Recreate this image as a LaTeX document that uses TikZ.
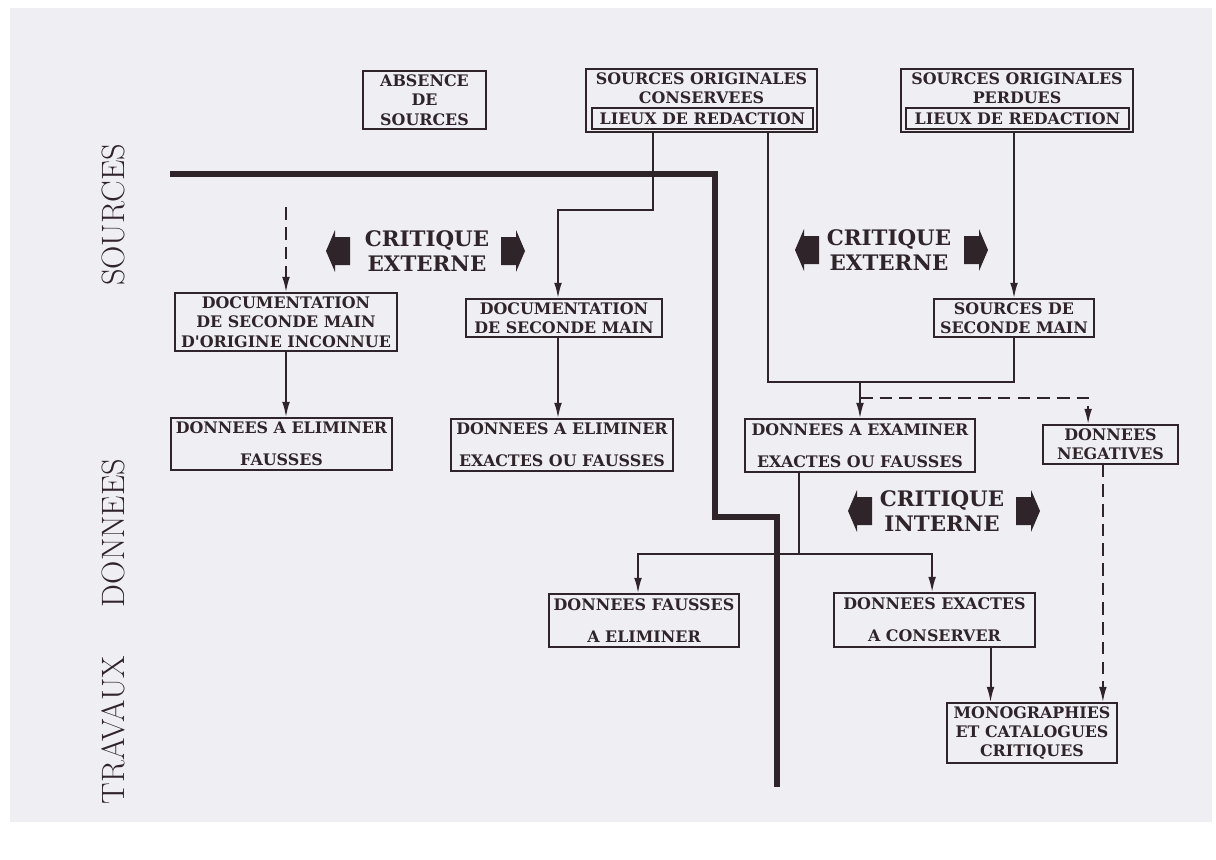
\documentclass[tikz,border=0pt]{standalone}
\usepackage{fontspec}
\newfontfamily\boxfont{DejaVu Serif}
\usetikzlibrary{arrows.meta}
\definecolor{ink}{RGB}{46,36,42}
\definecolor{paper}{RGB}{239,239,243}

\begin{document}
\begin{tikzpicture}[x=0.025cm,y=-0.025cm,line width=1.4pt,color=ink,
>={Latex[length=11pt,width=5.5pt]},
box/.style={draw,rectangle,line width=0.9pt,inner sep=1pt,align=center,font=\boxfont\bfseries\fontsize{11.3}{13.7}\selectfont},
lbl/.style={align=center,inner sep=0pt,font=\boxfont\bfseries\fontsize{11.3}{13.5}\selectfont},
inbox/.style={draw,rectangle,line width=0.9pt,inner sep=0pt,minimum height=0.525cm,font=\boxfont\bfseries\fontsize{11.3}{13}\selectfont},
crit/.style={align=center,inner sep=0pt,font=\boxfont\bfseries\fontsize{15.2}{18}\selectfont},
side/.style={rotate=90,inner sep=0pt,font=\fontsize{23}{26}\selectfont},
divider/.style={line width=4.5pt},
fatarrow/.pic={\fill[ink] (0,0) -- (9,-21) -- (9,-14) -- (24,-14) -- (24,14) -- (9,14) -- (9,21) -- cycle;}]

\useasboundingbox (0,0) rectangle (1216,860);
\fill[white] (0,0) rectangle (1216,860);
\fill[paper] (10,8) rectangle (1212,822);

% side titles
\draw (113,215) node[side] (tsrc) {SOURCES};
\draw (113,533) node[side] (tdon) {DONNEES};
\draw (113,730) node[side] (ttrv) {TRAVAUX};

% sources
\draw (424.5,100) node[box,minimum width=3.075cm,minimum height=1.45cm] (abs) {ABSENCE\\DE\\SOURCES};
\draw (701.5,100.5) node[box,minimum width=5.775cm,minimum height=1.575cm] (soc) {};
\draw (701.5,88) node[lbl] (soct) {SOURCES ORIGINALES\\CONSERVEES};
\draw (702.5,118.5) node[inbox,minimum width=5.525cm] (socl) {LIEUX DE REDACTION};
\draw (1017,100.5) node[box,minimum width=5.8cm,minimum height=1.575cm] (sop) {};
\draw (1017,88) node[lbl] (sopt) {SOURCES ORIGINALES\\PERDUES};
\draw (1017.5,118.5) node[inbox,minimum width=5.575cm] (sopl) {LIEUX DE REDACTION};

\draw (286,322) node[box,minimum width=5.55cm,minimum height=1.45cm] (dsi) {DOCUMENTATION\\DE SECONDE MAIN\\D'ORIGINE INCONNUE};
\draw (564,318) node[box,minimum width=4.9cm,minimum height=0.95cm] (doc) {DOCUMENTATION\\DE SECONDE MAIN};
\draw (1014,318) node[box,minimum width=4.0cm,minimum height=0.95cm] (ssm) {SOURCES DE\\SECONDE MAIN};

% donnees
\draw (281.5,444) node[box,minimum width=5.525cm,minimum height=1.3cm] (def) {DONNEES A ELIMINER\\[9pt]FAUSSES};
\draw (562,445) node[box,minimum width=5.55cm,minimum height=1.3cm] (deef) {DONNEES A ELIMINER\\[9pt]EXACTES OU FAUSSES};
\draw (860,445.5) node[box,minimum width=5.75cm,minimum height=1.325cm] (dex) {DONNEES A EXAMINER\\[9pt]EXACTES OU FAUSSES};
\draw (1110.5,444.5) node[box,minimum width=3.375cm,minimum height=0.975cm] (dneg) {DONNEES\\NEGATIVES};
\draw (644,620.5) node[box,minimum width=4.75cm,minimum height=1.325cm] (dfa) {DONNEES FAUSSES\\[9pt]A ELIMINER};
\draw (934.5,620) node[box,minimum width=5.025cm,minimum height=1.35cm] (dxc) {DONNEES EXACTES\\[9pt]A CONSERVER};
\draw (1032,733) node[box,minimum width=4.25cm,minimum height=1.5cm] (mon) {MONOGRAPHIES\\ET CATALOGUES\\CRITIQUES};

% critiques
\draw (427,251) node[crit] (crit1) {CRITIQUE\\EXTERNE};
\pic at (326,251) {fatarrow};
\pic[xscale=-1] at (525,251) {fatarrow};
\draw (889,250) node[crit] (crit2) {CRITIQUE\\EXTERNE};
\pic at (795,250) {fatarrow};
\pic[xscale=-1] at (988,250) {fatarrow};
\draw (942,511) node[crit] (crit3) {CRITIQUE\\INTERNE};
\pic at (848,511) {fatarrow};
\pic[xscale=-1] at (1040,511) {fatarrow};

% separating line
\draw[divider] (170,174) -| (715,517) -| (777,787);

% connections
\draw[->,dashed,dash pattern=on 9pt off 5pt] (dsi.north) ++(0,-85) -- (dsi.north);
\draw[->] (dsi.south) -- (dsi.south |- def.north);
\draw[->] (soc.south) ++(-48.5,0) -- ++(0,77) -| ([xshift=-0.15cm]doc.north);
\draw[->] ([xshift=-0.15cm]doc.south) -- ([xshift=-0.15cm]doc.south |- deef.north);
\draw (soc.south) ++(66.5,0) -- ++(0,249) coordinate (j1) -| (ssm.south);
\draw[->] (sop.south -| ssm.north) -- (ssm.north);
\draw[->] (j1 -| dex.north) -- (dex.north);
\draw[->,dashed,dash pattern=on 9pt off 5pt] (j1 -| dex.north) ++(0,16) -| ([xshift=-0.56cm]dneg.north);
\draw ([xshift=-1.525cm]dex.south) -- ++(0,81) coordinate (j2);
\draw[->] (j2) -| ([xshift=-0.15cm]dfa.north);
\draw[->] (j2) -| ([xshift=-0.06cm]dxc.north);
\draw[->] ([xshift=1.4cm]dxc.south) -- ([xshift=1.4cm]dxc.south |- mon.north);
\draw[->,dashed,dash pattern=on 9pt off 5pt] ([xshift=-0.19cm]dneg.south) -- ([xshift=-0.19cm]dneg.south |- mon.north);
\end{tikzpicture}
\end{document}
